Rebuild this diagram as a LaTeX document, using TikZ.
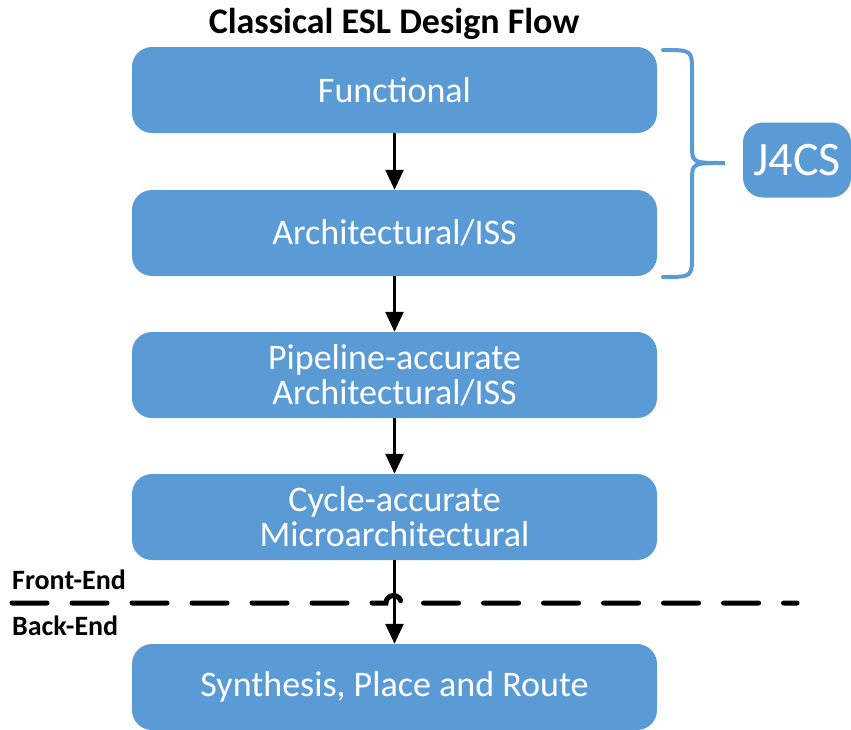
\documentclass[tikz,border=0pt]{standalone}
\usepackage{fontspec}
\setmainfont{Carlito}
\usetikzlibrary{arrows.meta}

\definecolor{stageblue}{HTML}{5B9BD5}

\tikzset{
  stage/.style={fill=stageblue, rounded corners=20pt, minimum width=525pt, minimum height=86pt,
    text=white, align=center, font=\fontsize{36}{35}\selectfont, inner sep=0pt},
  flow/.style={line width=2.6pt, -{Triangle[length=20pt,width=18pt]}},
  side/.style={font=\bfseries\fontsize{28}{30}\selectfont, anchor=west, inner sep=0pt}
}

\begin{document}
\begin{tikzpicture}[x=1pt,y=-1pt]

\useasboundingbox (0,0) rectangle (851,729);

\node[font=\bfseries\fontsize{36}{36}\selectfont] (title) at (394,24) {Classical ESL Design Flow};

% stages
\node[stage] (functional) at (394.5,90) {Functional};
\node[stage] (arch) at (394.5,233) {Architectural/ISS};
\node[stage] (pipeline) at (394.5,375) {Pipeline-accurate\\Architectural/ISS};
\node[stage] (cycle) at (394.5,517) {Cycle-accurate\\Microarchitectural};
\node[stage] (synth) at (394.5,687) {Synthesis, Place and Route};

\node[stage, minimum width=108pt, minimum height=75pt, font=\fontsize{48}{48}\selectfont] (jcs) at (797,160) {J4CS};

% brace
\draw [stageblue, line width=4pt, line cap=round] (663,50) .. controls (692,50) .. (692,72) -- (692,145)
  .. controls (692,163) .. (725,163) .. controls (692,163) .. (692,181) -- (692,255) .. controls (692,277) .. (663,277);

% front / back end separator
\draw [line width=5pt, line cap=round, dash pattern=on 35pt off 25pt] (12,603) -- (386,603) arc (180:360:7.5) -- (797,603);
\node[side] (front) at (12,580) {Front-End};
\node[side] (back) at (12,626) {Back-End};

% arrows
\draw [flow] (functional) -- (arch);
\draw [flow] (arch) -- (pipeline);
\draw [flow] (pipeline) -- (cycle);
\draw [flow] (cycle) -- (synth);

\end{tikzpicture}
\end{document}
